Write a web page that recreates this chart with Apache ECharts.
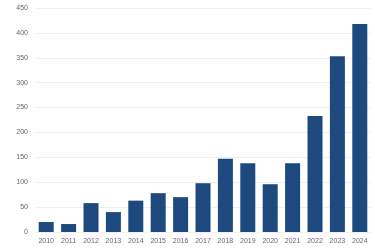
<!DOCTYPE html>
<html>
<head>
<meta charset="utf-8">
<script src="https://cdn.jsdelivr.net/npm/echarts@6/dist/echarts.min.js"></script>
<style>
html,body{margin:0;padding:0;background:#fff;}
#c{width:375px;height:250px;}
</style>
</head>
<body>
<div id="c"></div>
<script>
var categories = ['2010','2011','2012','2013','2014','2015','2016','2017','2018','2019','2020','2021','2022','2023','2024'];
var values = [20, 16, 58, 40, 63, 78, 70, 98, 147, 138, 96, 138, 233, 353, 418];
var yTicks = [0, 50, 100, 150, 200, 250, 300, 350, 400, 450];

var chart = echarts.init(document.getElementById('c'), null, {renderer: 'canvas'});
chart.setOption({
  animation: false,
  backgroundColor: '#ffffff',
  grid: {left: 35, right: 4, top: 8, bottom: 18, containLabel: false},
  xAxis: {
    type: 'category',
    data: categories,
    axisLine: {show: false},
    axisTick: {show: false},
    axisLabel: {color: '#666666', fontSize: 7, fontFamily: 'Liberation Sans, Arial, sans-serif', margin: 6, interval: 0}
  },
  yAxis: {
    type: 'value',
    min: yTicks[0],
    max: yTicks[yTicks.length - 1],
    interval: 50,
    axisLine: {show: false},
    axisTick: {show: false},
    axisLabel: {color: '#666666', fontSize: 7, fontFamily: 'Liberation Sans, Arial, sans-serif', margin: 7},
    splitLine: {lineStyle: {color: '#f0f0f0', width: 1}}
  },
  series: [{
    type: 'bar',
    data: values,
    barWidth: 15,
    itemStyle: {color: '#1d497e'}
  }]
});
</script>
</body>
</html>
